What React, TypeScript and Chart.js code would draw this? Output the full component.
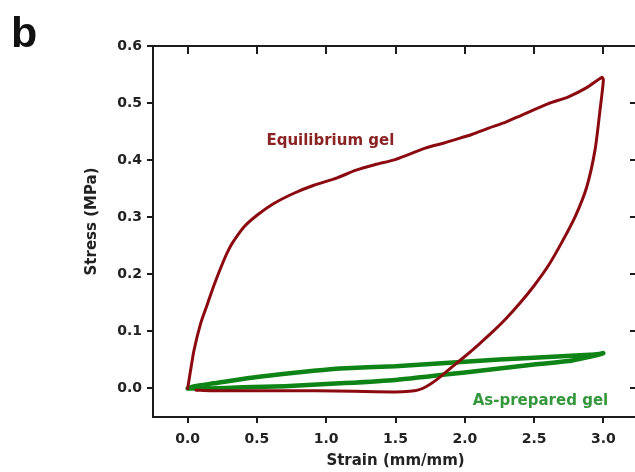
import React, { useEffect, useRef } from "react";
import { Chart, registerables } from "chart.js";

Chart.register(...registerables);

// ---- data ----
const xTickValues = [0, 0.5, 1.0, 1.5, 2.0, 2.5, 3.0];
const yTickValues = [0, 0.1, 0.2, 0.3, 0.4, 0.5, 0.6];

const seriesNames = ["Equilibrium gel", "As-prepared gel"];
const xTitle = "Strain (mm/mm)";
const yTitle = "Stress (MPa)";

// Equilibrium gel: loading then unloading (strain mm/mm, stress MPa)
const eqStrain = [
  0, 0.02, 0.046, 0.094, 0.143, 0.19, 0.262, 0.3, 0.334, 0.406, 0.503, 0.622, 0.767, 0.911, 1.079,
  1.21, 1.35, 1.497, 1.715, 1.85, 1.931, 2.05, 2.172, 2.3, 2.412, 2.604, 2.748, 2.88, 2.99,
  3.0, 2.976, 2.94, 2.88, 2.8, 2.7, 2.6, 2.5, 2.4, 2.3, 2.2, 2.1, 2.0, 1.9, 1.8, 1.72,
  1.66, 1.6, 1.5, 1.2, 0.923, 0.5, 0.166, 0.06,
];
const eqStress = [
  0, 0.03, 0.067, 0.114, 0.148, 0.181, 0.225, 0.245, 0.259, 0.283, 0.304, 0.324, 0.342, 0.356, 0.369,
  0.382, 0.392, 0.401, 0.421, 0.43, 0.436, 0.445, 0.456, 0.467, 0.479, 0.499, 0.511, 0.527, 0.545,
  0.54, 0.488, 0.418, 0.353, 0.303, 0.256, 0.214, 0.18, 0.15, 0.123, 0.099, 0.077, 0.056, 0.036, 0.016, 0.003,
  -0.003, -0.005, -0.006, -0.005, -0.004, -0.004, -0.004, -0.003,
];

// As-prepared gel: loading (upper) then unloading (lower)
const apStrain = [
  0, 0.05, 0.19, 0.43, 0.67, 0.91, 1.1, 1.5, 2.0, 2.5, 2.9, 2.98, 3.0,
  2.95, 2.85, 2.75, 2.5, 2.0, 1.5, 1.1, 0.7, 0.4, 0.15, 0,
];
const apStress = [
  0, 0.004, 0.009, 0.018, 0.025, 0.031, 0.035, 0.039, 0.047, 0.054, 0.059, 0.061, 0.062,
  0.058, 0.053, 0.048, 0.042, 0.028, 0.015, 0.009, 0.004, 0.002, 0.0, 0,
];

// ---- styles ----
const AXIS = "#1c1c1c";
const TEXT = "#222222";
const RED = "#8b0a10";
const GREEN = "#0f8416";
const RED_TEXT = "#8a2323";
const GREEN_TEXT = "#35973b";
const FONT = "'DejaVu Sans', sans-serif";

const toPoints = (xs: number[], ys: number[]) => xs.map((x, i) => ({ x, y: ys[i] }));

const framePlugin = {
  id: "frameAndLabels",
  afterDraw(chart: any) {
    const { ctx, chartArea: ca, scales } = chart;
    const xs = scales.x;
    const ys = scales.y;
    ctx.save();
    ctx.strokeStyle = AXIS;
    ctx.lineWidth = 2;
    ctx.beginPath();
    // top frame line with inward ticks
    ctx.moveTo(ca.left - 1, ca.top);
    ctx.lineTo(ca.right + 1, ca.top);
    for (const v of xTickValues) {
      const px = Math.round(xs.getPixelForValue(v));
      ctx.moveTo(px, ca.top);
      ctx.lineTo(px, ca.top + 8);
    }
    // right-side inward ticks (the right frame line lies just beyond the visible area)
    for (const v of yTickValues) {
      const py = Math.round(ys.getPixelForValue(v));
      ctx.moveTo(ca.right, py);
      ctx.lineTo(ca.right - 8, py);
    }
    ctx.stroke();

    // y axis title
    ctx.save();
    ctx.font = `bold 15px ${FONT}`;
    ctx.fillStyle = TEXT;
    ctx.textAlign = "center";
    ctx.textBaseline = "middle";
    ctx.translate(92, (ca.top + ca.bottom) / 2 - 10);
    ctx.rotate(-Math.PI / 2);
    ctx.fillText(yTitle, 0, 0);
    ctx.restore();

    // series labels
    ctx.font = `bold 15px ${FONT}`;
    ctx.textAlign = "center";
    ctx.textBaseline = "alphabetic";
    ctx.fillStyle = RED_TEXT;
    ctx.fillText(seriesNames[0], xs.getPixelForValue(1.03), ys.getPixelForValue(0.4265));
    ctx.fillStyle = GREEN_TEXT;
    ctx.fillText(seriesNames[1], xs.getPixelForValue(2.546), ys.getPixelForValue(-0.029));

    // panel letter
    ctx.font = "bold 43px 'Liberation Sans', Arial, sans-serif";
    ctx.textAlign = "left";
    ctx.fillStyle = "#111";
    ctx.fillText("b", 11, 47);
    ctx.restore();
  },
};

export default function App() {
  const ref = useRef<HTMLCanvasElement | null>(null);

  useEffect(() => {
    if (!ref.current) return;
    const tickFont = { family: FONT, size: 14, weight: "bold" as const };
    const titleFont = { family: FONT, size: 15, weight: "bold" as const };
    const chart = new Chart(ref.current, {
      type: "scatter",
      data: {
        datasets: [
          {
            label: seriesNames[0],
            data: toPoints(eqStrain, eqStress),
            showLine: true,
            borderColor: RED,
            backgroundColor: RED,
            borderWidth: 3,
            pointRadius: 0,
            tension: 0.25,
            borderJoinStyle: "round",
            borderCapStyle: "round",
          },
          {
            label: seriesNames[1],
            data: toPoints(apStrain, apStress),
            showLine: true,
            borderColor: GREEN,
            backgroundColor: GREEN,
            borderWidth: 4.5,
            pointRadius: 0,
            tension: 0.2,
            borderJoinStyle: "round",
            borderCapStyle: "round",
          },
        ],
      },
      options: {
        animation: false,
        responsive: false,
        devicePixelRatio: 1,
        layout: { padding: { left: 0, right: 12, top: 46, bottom: 0 } },
        plugins: { legend: { display: false }, tooltip: { enabled: false } },
        scales: {
          x: {
            type: "linear",
            position: "bottom",
            min: -0.25,
            max: 3.25,
            afterBuildTicks: (s: any) => {
              s.ticks = xTickValues.map((v) => ({ value: v }));
            },
            afterFit: (s: any) => {
              s.height = 55;
            },
            grid: { display: true, drawOnChartArea: false, drawTicks: true, tickLength: 6, color: AXIS, lineWidth: 2 },
            border: { display: true, color: AXIS, width: 2 },
            ticks: {
              color: TEXT,
              font: tickFont,
              padding: 8,
              autoSkip: false,
              maxRotation: 0,
              callback: (v: any) => Number(v).toFixed(1),
            },
            title: { display: true, text: xTitle, color: TEXT, font: titleFont, padding: { top: 0, bottom: 2 } },
          },
          y: {
            type: "linear",
            position: "left",
            min: -0.05,
            max: 0.6,
            afterBuildTicks: (s: any) => {
              s.ticks = yTickValues.map((v) => ({ value: v }));
            },
            afterFit: (s: any) => {
              s.width = 153;
            },
            grid: { display: true, drawOnChartArea: false, drawTicks: true, tickLength: 6, color: AXIS, lineWidth: 2 },
            border: { display: true, color: AXIS, width: 2 },
            ticks: {
              color: TEXT,
              font: tickFont,
              padding: 5,
              autoSkip: false,
              callback: (v: any) => Number(v).toFixed(1),
            },
            title: { display: false, text: yTitle },
          },
        },
      },
      plugins: [framePlugin],
    } as any);
    return () => chart.destroy();
  }, []);

  return (
    <div
      style={{
        position: "fixed",
        left: 0,
        top: 0,
        width: 635,
        height: 472,
        overflow: "hidden",
        background: "#fff",
      }}
    >
      <canvas ref={ref} width={650} height={472} style={{ display: "block", width: 650, height: 472 }} />
    </div>
  );
}
